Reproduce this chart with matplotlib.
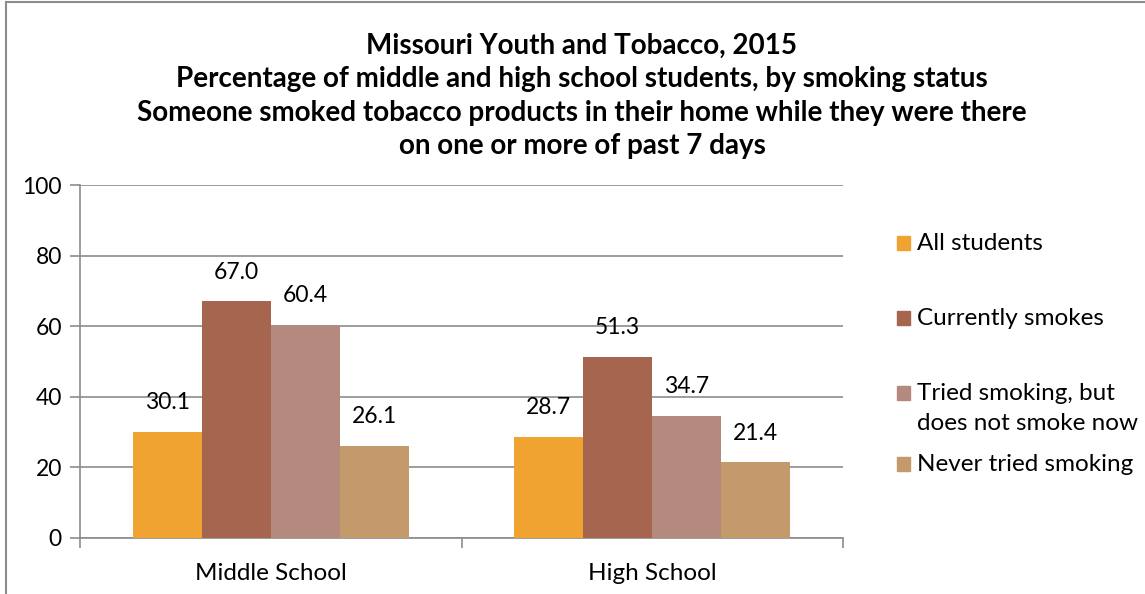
import matplotlib
matplotlib.use('Agg')
import matplotlib.pyplot as plt
from matplotlib.patches import Rectangle
from matplotlib.lines import Line2D
import numpy as np

plt.rcParams['font.family'] = ['Lato', 'DejaVu Sans']

schools = ['Middle School', 'High School']
series = ['All students', 'Currently smokes', 'Tried smoking, but\ndoes not smoke now', 'Never tried smoking']
all_students = [30.1, 28.7]
currently = [67.0, 51.3]
tried = [60.4, 34.7]
never = [26.1, 21.4]
values = [all_students, currently, tried, never]
colors = ['#F0A330', '#A5654F', '#B58A7E', '#C49A6C']

title = ('Missouri Youth and Tobacco, 2015\n'
         'Percentage of middle and high school students, by smoking status\n'
         'Someone smoked tobacco products in their home while they were there\n'
         'on one or more of past 7 days')

fig = plt.figure(figsize=(11.45, 5.94), dpi=100)
ax = fig.add_axes([80/1145, 1 - 538/594, (843 - 80)/1145, (538 - 185)/594])

x = np.arange(len(schools))
w = 0.181
for i, (vals, c) in enumerate(zip(values, colors)):
    pos = x + (i - 1.5) * w
    ax.bar(pos, vals, w, color=c, linewidth=0, zorder=3)
    for p, v in zip(pos, vals):
        ax.annotate(f'{v:.1f}', (p, v), xytext=(0, 21), textcoords='offset points',
                    ha='center', va='center', fontsize=16.5)

ax.set_xlim(-0.5, 1.5)
ax.set_ylim(0, 100)
ax.set_yticks(range(0, 101, 20))
ax.yaxis.grid(True, color='#8c8c8c', linewidth=1.2, zorder=0)
ax.set_xticks(x)
ax.set_xticklabels(schools, fontsize=17.5)
ax.set_xticks([-0.5, 0.5, 1.5], minor=True)
ax.tick_params(axis='x', which='major', length=0, pad=18)
ax.tick_params(axis='x', which='minor', length=7, color='#8c8c8c', width=1.2)
ax.tick_params(axis='y', length=7, color='#8c8c8c', width=1.2, labelsize=16.5, pad=6)
for s in ['top', 'right']:
    ax.spines[s].set_visible(False)
for s in ['left', 'bottom']:
    ax.spines[s].set_color('#8c8c8c')
    ax.spines[s].set_linewidth(1.2)

fig.text(582/1145, 1 - 96/594, title, ha='center', va='center', fontsize=20,
         fontweight='bold', linespacing=1.36, multialignment='center')

# legend
leg_y = [243, 318, 393, 464]
for lab, c, yy in zip(series, colors, leg_y):
    fig.add_artist(Rectangle((897/1145, 1 - (yy + 7)/594), 13/1145, 14/594,
                             transform=fig.transFigure, color=c))
    fig.text(917/1145, 1 - (yy - 10)/594, lab, ha='left', va='top', fontsize=17.5,
             linespacing=1.5)

# outer border
fig.add_artist(Line2D([6/1145, 6/1145], [0, 1 - 2/594], transform=fig.transFigure,
                      color='#8c8c8c', linewidth=1.5))
fig.add_artist(Line2D([6/1145, 1], [1 - 2/594, 1 - 2/594], transform=fig.transFigure,
                      color='#8c8c8c', linewidth=1.5))

fig.savefig('out.png', dpi=100)
